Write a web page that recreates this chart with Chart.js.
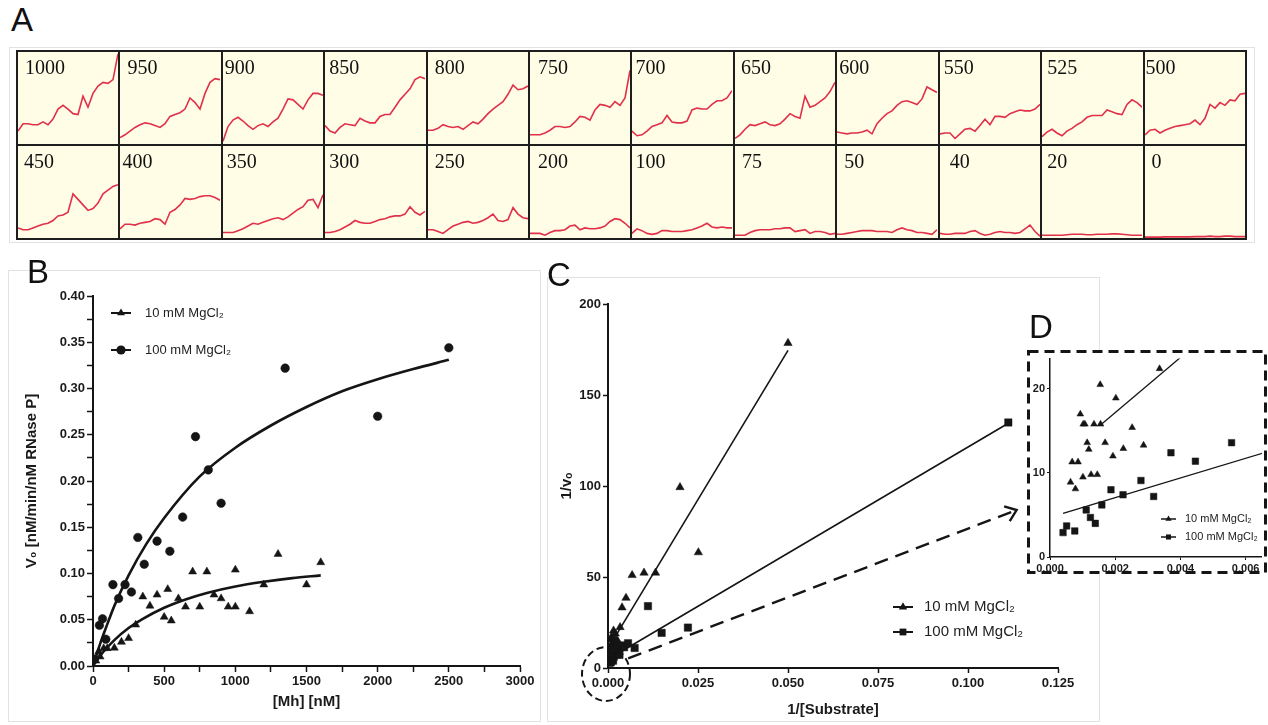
<!DOCTYPE html>
<html>
<head>
<meta charset="utf-8">
<title>RNase P cleavage kinetics</title>
<script src="https://cdn.jsdelivr.net/npm/chart.js@4.4.1/dist/chart.umd.min.js"></script>
<style>
  body { margin: 0; width: 1268px; height: 725px; position: relative; overflow: hidden; background: #fff;
         font-family: "Liberation Sans", Arial, sans-serif; }
  .letter { position: absolute; font-size: 33px; line-height: 33px; color: #111; z-index: 5; }
  .frame { position: absolute; box-sizing: border-box; border: 1px solid #e2e2e2; }
  .plot { position: absolute; display: block; }
  #traceGrid { position: absolute; left: 16px; top: 50px; width: 1231px; height: 190px; box-sizing: border-box;
               padding: 2px; background: #1e1e1e; display: grid; gap: 2px;
               grid-template-columns: repeat(12, 1fr); grid-template-rows: repeat(2, 1fr); }
  .cell { position: relative; background: #fffde6; overflow: hidden; }
  .cell canvas { position: absolute; left: 0; top: 0; }
  .cell span { position: absolute; top: 5px; font-family: "Liberation Serif", "Times New Roman", serif;
               font-size: 20px; line-height: 20px; color: #111; }
  #insetBox { position: absolute; left: 1027px; top: 350px; width: 240px; height: 224px; background: #fff; }
</style>
</head>
<body>

<div class="letter" style="left:11px;top:3px">A</div>
<div class="frame" style="left:9px;top:47px;width:1246px;height:196px"></div>
<div id="traceGrid"></div>

<div class="frame" style="left:8px;top:270px;width:533px;height:452px"></div>
<canvas id="chartB" class="plot" width="533" height="452" style="left:8px;top:270px"></canvas>
<div class="letter" style="left:27px;top:255px">B</div>

<div class="frame" style="left:547px;top:277px;width:553px;height:445px"></div>
<canvas id="chartC" class="plot" width="553" height="445" style="left:547px;top:277px"></canvas>
<div class="letter" style="left:547px;top:258px">C</div>

<div id="insetBox"></div>
<canvas id="chartD" class="plot" width="240" height="224" style="left:1027px;top:350px"></canvas>
<div class="letter" style="left:1029px;top:310px">D</div>

<script>
// ---- A: time courses, one panel per Mh concentration (nM) ----
const traceConc = [1000, 950, 900, 850, 800, 750, 700, 650, 600, 550, 525, 500,
                   450, 400, 350, 300, 250, 200, 100, 75, 50, 40, 20, 0];

// signal as a fraction of panel height, sampled evenly over the run
const t1000 = [0.14, 0.22, 0.22, 0.21, 0.21, 0.24, 0.21, 0.27, 0.38, 0.42, 0.38, 0.33, 0.32, 0.52, 0.40, 0.55, 0.63, 0.67, 0.66, 0.70, 0.98];
const t950  = [0.07, 0.10, 0.14, 0.18, 0.21, 0.23, 0.22, 0.20, 0.18, 0.22, 0.30, 0.32, 0.34, 0.38, 0.50, 0.45, 0.38, 0.55, 0.67, 0.71, 0.70];
const t900  = [0.03, 0.19, 0.26, 0.29, 0.25, 0.20, 0.16, 0.20, 0.22, 0.19, 0.24, 0.28, 0.38, 0.49, 0.48, 0.43, 0.38, 0.48, 0.55, 0.55, 0.53];
const t850  = [0.20, 0.14, 0.12, 0.18, 0.22, 0.21, 0.20, 0.28, 0.25, 0.23, 0.23, 0.30, 0.32, 0.32, 0.40, 0.48, 0.54, 0.60, 0.70, 0.73, 0.71];
const t800  = [0.15, 0.15, 0.17, 0.21, 0.19, 0.18, 0.19, 0.16, 0.20, 0.24, 0.22, 0.27, 0.33, 0.38, 0.42, 0.46, 0.54, 0.64, 0.59, 0.60, 0.63];
const t750  = [0.10, 0.10, 0.10, 0.12, 0.15, 0.19, 0.19, 0.18, 0.19, 0.24, 0.30, 0.29, 0.26, 0.37, 0.43, 0.42, 0.40, 0.46, 0.42, 0.50, 0.80];
const t700  = [0.14, 0.09, 0.10, 0.14, 0.19, 0.21, 0.23, 0.31, 0.24, 0.23, 0.23, 0.25, 0.37, 0.39, 0.38, 0.38, 0.43, 0.47, 0.47, 0.50, 0.58];
const t650  = [0.06, 0.10, 0.16, 0.21, 0.20, 0.22, 0.24, 0.21, 0.20, 0.22, 0.27, 0.33, 0.30, 0.28, 0.52, 0.40, 0.42, 0.46, 0.50, 0.57, 0.67];
const t600  = [0.13, 0.12, 0.11, 0.12, 0.12, 0.13, 0.15, 0.11, 0.22, 0.28, 0.33, 0.36, 0.42, 0.46, 0.47, 0.45, 0.43, 0.49, 0.62, 0.59, 0.56];
const t550  = [0.11, 0.12, 0.12, 0.06, 0.11, 0.16, 0.17, 0.14, 0.20, 0.27, 0.21, 0.30, 0.30, 0.29, 0.33, 0.35, 0.37, 0.36, 0.36, 0.38, 0.43];
const t525  = [0.08, 0.13, 0.16, 0.12, 0.09, 0.14, 0.17, 0.21, 0.24, 0.29, 0.31, 0.31, 0.31, 0.37, 0.35, 0.33, 0.32, 0.43, 0.48, 0.45, 0.40];
const t500  = [0.10, 0.15, 0.16, 0.12, 0.15, 0.17, 0.19, 0.20, 0.21, 0.22, 0.26, 0.21, 0.28, 0.43, 0.39, 0.45, 0.42, 0.48, 0.47, 0.54, 0.55];
const t450  = [0.11, 0.09, 0.09, 0.11, 0.13, 0.15, 0.16, 0.19, 0.24, 0.25, 0.28, 0.48, 0.42, 0.36, 0.30, 0.32, 0.38, 0.48, 0.52, 0.56, 0.58];
const t400  = [0.10, 0.15, 0.15, 0.14, 0.16, 0.17, 0.18, 0.21, 0.20, 0.15, 0.28, 0.31, 0.36, 0.43, 0.42, 0.43, 0.45, 0.46, 0.46, 0.44, 0.41];
const t350  = [0.06, 0.06, 0.06, 0.08, 0.10, 0.13, 0.16, 0.15, 0.17, 0.19, 0.21, 0.22, 0.20, 0.23, 0.27, 0.31, 0.34, 0.41, 0.42, 0.33, 0.47];
const t300  = [0.06, 0.06, 0.07, 0.09, 0.12, 0.15, 0.19, 0.17, 0.16, 0.16, 0.18, 0.20, 0.21, 0.23, 0.24, 0.24, 0.26, 0.34, 0.28, 0.25, 0.29];
const t250  = [0.09, 0.09, 0.07, 0.05, 0.09, 0.13, 0.15, 0.17, 0.18, 0.16, 0.17, 0.19, 0.22, 0.26, 0.19, 0.18, 0.20, 0.33, 0.26, 0.22, 0.21];
const t200  = [0.05, 0.05, 0.05, 0.03, 0.06, 0.08, 0.08, 0.09, 0.13, 0.14, 0.09, 0.11, 0.10, 0.10, 0.11, 0.13, 0.18, 0.21, 0.20, 0.16, 0.11];
const t100  = [0.05, 0.10, 0.08, 0.05, 0.04, 0.05, 0.08, 0.08, 0.07, 0.07, 0.07, 0.08, 0.09, 0.11, 0.13, 0.16, 0.12, 0.11, 0.12, 0.11, 0.11];
const t75   = [0.03, 0.03, 0.03, 0.06, 0.08, 0.09, 0.09, 0.09, 0.10, 0.10, 0.11, 0.11, 0.07, 0.08, 0.09, 0.05, 0.07, 0.07, 0.06, 0.04, 0.05];
const t50   = [0.04, 0.04, 0.05, 0.06, 0.07, 0.08, 0.08, 0.08, 0.07, 0.07, 0.07, 0.06, 0.09, 0.11, 0.09, 0.08, 0.06, 0.06, 0.05, 0.04, 0.09];
const t40   = [0.05, 0.04, 0.04, 0.05, 0.05, 0.05, 0.07, 0.08, 0.05, 0.03, 0.04, 0.06, 0.07, 0.06, 0.06, 0.05, 0.06, 0.10, 0.14, 0.07, 0.02];
const t20   = [0.03, 0.03, 0.03, 0.03, 0.03, 0.035, 0.04, 0.04, 0.04, 0.035, 0.035, 0.04, 0.04, 0.04, 0.045, 0.045, 0.04, 0.035, 0.03, 0.03, 0.03];
const t0    = [0.01, 0.01, 0.01, 0.01, 0.012, 0.012, 0.012, 0.012, 0.012, 0.012, 0.015, 0.015, 0.015, 0.02, 0.015, 0.015, 0.02, 0.02, 0.015, 0.015, 0.015];
const traceSet = [t1000, t950, t900, t850, t800, t750, t700, t650, t600, t550, t525, t500,
                  t450, t400, t350, t300, t250, t200, t100, t75, t50, t40, t20, t0];

// ---- B: initial rate vs [Mh] ----
const mh10 = [20, 40, 50, 75, 100, 150, 200, 250, 300, 350, 400, 450, 500, 525, 550, 600, 650, 700, 750, 800,
              850, 900, 950, 1000, 1000, 1100, 1200, 1300, 1500, 1600];
const rate10 = [0.0056, 0.0157, 0.0101, 0.0191, 0.0191, 0.0196, 0.026, 0.030, 0.0446, 0.075, 0.065, 0.077, 0.053,
                0.083, 0.049, 0.073, 0.064, 0.102, 0.064, 0.102, 0.077, 0.073, 0.064, 0.064, 0.104, 0.059, 0.088,
                0.121, 0.088, 0.112];
const mh100 = [9, 45, 67, 90, 140, 180, 225, 270, 315, 360, 450, 540, 630, 720, 810, 900, 1350, 2000, 2500];
const rate100 = [0.0074, 0.044, 0.051, 0.029, 0.088, 0.073, 0.088, 0.080, 0.139, 0.110, 0.135, 0.124, 0.161,
                 0.248, 0.212, 0.176, 0.322, 0.270, 0.344];
// fitted hyperbolas
const fitMh10 = [0, 50, 100, 150, 250, 350, 500, 650, 800, 1000, 1200, 1400, 1600];
const fitRate10 = [0, 0.011, 0.020, 0.028, 0.041, 0.051, 0.063, 0.072, 0.079, 0.086, 0.091, 0.095, 0.098];
const fitMh100 = [0, 50, 100, 150, 250, 375, 500, 750, 1000, 1250, 1500, 1750, 2000, 2250, 2500];
const fitRate100 = [0, 0.024, 0.045, 0.065, 0.098, 0.132, 0.160, 0.205, 0.236, 0.260, 0.280, 0.297, 0.310, 0.321, 0.331];

// ---- C / D: double reciprocal ----
const invS10 = [0.00336, 0.00154, 0.00202, 0.00093, 0.00102, 0.00107, 0.00135, 0.00155, 0.00252, 0.00114, 0.00169,
                0.00119, 0.00225, 0.00287, 0.00193, 0.00068, 0.00086, 0.00063, 0.00078, 0.00101, 0.00126, 0.00145,
                0.0039, 0.0050, 0.0067, 0.0100, 0.0132, 0.0200, 0.0251, 0.0500];
const invV10 = [22.4, 20.5, 18.9, 17.0, 15.8, 15.8, 15.8, 15.8, 15.4, 13.6, 13.6, 12.8, 12.9, 13.3, 12.0, 11.3,
                11.3, 8.9, 8.1, 9.5, 9.8, 9.8, 33.2, 38.5, 51.0, 52.3, 52.3, 99.3, 63.5, 178.5];
const invS100 = [0.0004, 0.00051, 0.00076, 0.00111, 0.00124, 0.00139, 0.00159, 0.00187, 0.00224, 0.00279, 0.00318,
                 0.00371, 0.00446, 0.00557, 0.0074, 0.0111, 0.0149, 0.0222, 0.1112];
const invV100 = [2.9, 3.7, 3.1, 5.6, 4.7, 4.0, 6.2, 8.0, 7.4, 9.1, 7.2, 12.4, 11.4, 13.6, 11.0, 34.0, 19.3, 22.2, 134.9];
// regression lines (end points)
const lineS10 = [0.00155, 0.0500];
const lineV10 = [15.7, 174.5];
const lineS100 = [0.0004, 0.1112];
const lineV100 = [5.2, 134.5];

const seriesNames = ['10 mM MgCl\u2082', '100 mM MgCl\u2082'];

// ---------------------------------------------------------------
const ink = '#151515';
const traceRed = '#e0304a';
const sans = "'Liberation Sans', Arial, sans-serif";
// where each panel number sits from the left edge of its cell (px)
const traceLabelInset = [7, 7, 2, 4, 7, 8, 3, 6, 2, 4, 5, 1, 6, 2, 4, 4, 7, 8, 3, 7, 7, 10, 5, 7];

Chart.defaults.animation = false;
Chart.defaults.events = [];
Chart.defaults.font.family = sans;
Chart.defaults.plugins.legend.display = false;
Chart.defaults.plugins.tooltip.enabled = false;

function pairs(xs, ys) {
    return xs.map((x, i) => ({ x: x, y: ys[i] }));
}

// A: small strip charts
const grid = document.getElementById('traceGrid');
traceSet.forEach((vals, i) => {
    const cell = document.createElement('div');
    cell.className = 'cell';
    const cv = document.createElement('canvas');
    cv.width = 100;
    cv.height = 92;
    const lab = document.createElement('span');
    lab.textContent = traceConc[i];
    lab.style.left = traceLabelInset[i] + 'px';
    cell.append(cv, lab);
    grid.append(cell);
    new Chart(cv, {
        type: 'line',
        data: {
            labels: vals.map((_, k) => k),
            datasets: [{ data: vals, borderColor: traceRed, borderWidth: 1.6, pointRadius: 0, tension: 0 }]
        },
        options: {
            responsive: false,
            layout: { padding: 0 },
            scales: { x: { display: false }, y: { display: false, min: 0, max: 1 } }
        }
    });
});

function drawMarker(ctx, style, x, y, r) {
    ctx.beginPath();
    if (style === 'triangle') {
        ctx.moveTo(x, y - r);
        ctx.lineTo(x + r * 0.866, y + r * 0.5);
        ctx.lineTo(x - r * 0.866, y + r * 0.5);
        ctx.closePath();
    } else if (style === 'rect') {
        const s = r * Math.SQRT1_2;
        ctx.rect(x - s, y - s, 2 * s, 2 * s);
    } else {
        ctx.arc(x, y, r, 0, Math.PI * 2);
    }
    ctx.fill();
}

// legend drawn inside the plot: short line with the marker on it, then the label
const insetLegend = {
    id: 'insetLegend',
    afterDraw(chart, args, opts) {
        if (!opts.rows) return;
        const ctx = chart.ctx;
        ctx.save();
        ctx.font = opts.font;
        ctx.textBaseline = 'middle';
        opts.rows.forEach((dsIndex, row) => {
            const ds = chart.data.datasets[dsIndex];
            const y = opts.top + row * opts.rowGap;
            ctx.strokeStyle = ink;
            ctx.fillStyle = ink;
            ctx.lineWidth = opts.lineWidth;
            ctx.beginPath();
            ctx.moveTo(opts.left, y);
            ctx.lineTo(opts.left + opts.lineLength, y);
            ctx.stroke();
            drawMarker(ctx, ds.pointStyle, opts.left + opts.lineLength / 2, y, opts.markerRadius);
            ctx.fillStyle = '#222';
            ctx.fillText(ds.label, opts.left + opts.lineLength + opts.gap, y);
        });
        ctx.restore();
    }
};

// dashed ring round the origin cluster and the arrow pointing to the inset
const zoomCue = {
    id: 'zoomCue',
    afterDraw(chart, args, opts) {
        if (!opts.from) return;
        const sx = chart.scales.x, sy = chart.scales.y, ctx = chart.ctx;
        const ox = sx.getPixelForValue(0), oy = sy.getPixelForValue(0);
        ctx.save();
        ctx.strokeStyle = ink;
        ctx.lineWidth = 2;
        ctx.setLineDash([7, 4]);
        ctx.beginPath();
        ctx.ellipse(ox - 2, oy + 6, 24, 27, 0, 0, Math.PI * 2);
        ctx.stroke();

        const x0 = sx.getPixelForValue(opts.from[0]), y0 = sy.getPixelForValue(opts.from[1]);
        const x1 = sx.getPixelForValue(opts.to[0]), y1 = sy.getPixelForValue(opts.to[1]);
        ctx.lineWidth = 2.4;
        ctx.setLineDash([14, 8]);
        ctx.beginPath();
        ctx.moveTo(x0, y0);
        ctx.lineTo(x1 - 4, y1 + 1.5);
        ctx.stroke();
        const ang = Math.atan2(y1 - y0, x1 - x0);
        ctx.setLineDash([]);
        ctx.beginPath();
        ctx.moveTo(x1 + 13 * Math.cos(ang + Math.PI - 0.65), y1 + 13 * Math.sin(ang + Math.PI - 0.65));
        ctx.lineTo(x1, y1);
        ctx.lineTo(x1 + 13 * Math.cos(ang + Math.PI + 0.65), y1 + 13 * Math.sin(ang + Math.PI + 0.65));
        ctx.stroke();
        ctx.restore();
    }
};

// dashed frame of the inset
const dashedFrame = {
    id: 'dashedFrame',
    afterDraw(chart, args, opts) {
        if (!opts.width) return;
        const ctx = chart.ctx;
        ctx.save();
        ctx.strokeStyle = ink;
        ctx.lineWidth = opts.width;
        ctx.setLineDash(opts.dash);
        const h = opts.width / 2;
        ctx.strokeRect(h, h, chart.width - opts.width, chart.height - opts.width);
        ctx.restore();
    }
};

Chart.register(insetLegend, zoomCue, dashedFrame);

function axis(o) {
    return {
        type: 'linear',
        min: o.min,
        max: o.max,
        border: { display: true, color: ink, width: o.border },
        grid: { display: true, drawOnChartArea: false, drawTicks: true, tickLength: o.tick, tickWidth: o.tickWidth, tickColor: ink },
        ticks: {
            stepSize: o.step, autoSkip: false, maxRotation: 0, includeBounds: false,
            color: '#1a1a1a', padding: o.pad, font: { size: o.font, weight: 'bold' }, callback: o.label
        },
        title: o.title ? { display: true, text: o.title, color: '#1a1a1a', font: { size: 15, weight: 'bold' }, padding: o.titlePad } : { display: false },
        afterFit: o.fit
    };
}

function pointSet(label, xs, ys, style, r) {
    return {
        label: label, data: pairs(xs, ys), pointStyle: style, pointRadius: r, pointHoverRadius: r,
        pointBackgroundColor: ink, pointBorderColor: ink, pointBorderWidth: 0.5, showLine: false, order: 1
    };
}

function lineSet(label, xs, ys, width, smooth) {
    return {
        label: label, data: pairs(xs, ys), showLine: true, pointRadius: 0, pointHoverRadius: 0,
        borderColor: ink, borderWidth: width, fill: false,
        cubicInterpolationMode: smooth ? 'monotone' : 'default', order: 2
    };
}

// B
new Chart(document.getElementById('chartB'), {
    type: 'scatter',
    data: {
        datasets: [
            pointSet(seriesNames[0], mh10, rate10, 'triangle', 4.6),
            pointSet(seriesNames[1], mh100, rate100, 'circle', 4.3),
            lineSet('fit 10', fitMh10, fitRate10, 2.6, true),
            lineSet('fit 100', fitMh100, fitRate100, 2.6, true)
        ]
    },
    options: {
        responsive: false,
        layout: { padding: { top: 26, right: 21, bottom: 0, left: 0 } },
        scales: {
            x: axis({ min: 0, max: 3000, step: 250, border: 2, tick: 6, tickWidth: 1.5, pad: 2, font: 13,
                      label: v => (v % 500 === 0 ? String(v) : ''), title: '[Mh] [nM]',
                      titlePad: { top: 0, bottom: 11 }, fit: s => { s.height = 56; } }),
            y: axis({ min: 0, max: 0.4, step: 0.025, border: 2, tick: 6, tickWidth: 1.5, pad: 2, font: 13,
                      label: v => (Math.round(v * 1000) % 50 === 0 ? v.toFixed(2) : ''),
                      title: 'V\u2080 [nM/min/nM RNase P]', titlePad: { top: 15, bottom: 0 },
                      fit: s => { s.width = 85; } })
        },
        plugins: {
            insetLegend: { rows: [0, 1], left: 103, top: 43, rowGap: 37, lineLength: 20, gap: 14,
                           lineWidth: 2, markerRadius: 4.6, font: '13px ' + sans }
        }
    }
});

// C
new Chart(document.getElementById('chartC'), {
    type: 'scatter',
    data: {
        datasets: [
            pointSet(seriesNames[0], invS10, invV10, 'triangle', 4.8),
            pointSet(seriesNames[1], invS100, invV100, 'rect', 5.2),
            lineSet('line 10', lineS10, lineV10, 1.6, false),
            lineSet('line 100', lineS100, lineV100, 1.6, false)
        ]
    },
    options: {
        responsive: false,
        layout: { padding: { top: 27, right: 42, bottom: 0, left: 0 } },
        scales: {
            x: axis({ min: 0, max: 0.125, step: 0.025, border: 2, tick: 5, tickWidth: 1.5, pad: 3, font: 13,
                      label: v => v.toFixed(3), title: '1/[Substrate]',
                      titlePad: { top: 0, bottom: 3 }, fit: s => { s.height = 54; } }),
            y: axis({ min: 0, max: 200, step: 50, border: 2, tick: 5, tickWidth: 1.5, pad: 2, font: 13,
                      label: v => String(v), title: '1/v\u2092', titlePad: { top: 11, bottom: 0 },
                      fit: s => { s.width = 61; } })
        },
        plugins: {
            insetLegend: { rows: [0, 1], left: 346, top: 330, rowGap: 25, lineLength: 20, gap: 11,
                           lineWidth: 2, markerRadius: 4.8, font: '15px ' + sans },
            zoomCue: { from: [0.0056, 5.3], to: [0.1135, 86.8] }
        }
    }
});

// D: low-concentration end of C
new Chart(document.getElementById('chartD'), {
    type: 'scatter',
    data: {
        datasets: [
            pointSet(seriesNames[0], invS10, invV10, 'triangle', 3.9),
            pointSet(seriesNames[1], invS100, invV100, 'rect', 4.6),
            lineSet('line 10', lineS10, lineV10, 1.3, false),
            lineSet('line 100', lineS100, lineV100, 1.3, false)
        ]
    },
    options: {
        responsive: false,
        layout: { padding: { top: 2, right: 1, bottom: 0, left: 0 } },
        scales: {
            x: axis({ min: 0, max: 0.0065, step: 0.002, border: 1.5, tick: 3, tickWidth: 1, pad: 2, font: 11,
                      label: v => v.toFixed(3), fit: s => { s.height = 17; } }),
            y: axis({ min: 0, max: 23.6, step: 10, border: 1.5, tick: 3, tickWidth: 1, pad: 2, font: 11,
                      label: v => String(v), fit: s => { s.width = 23; } })
        },
        plugins: {
            insetLegend: { rows: [0, 1], left: 134, top: 169, rowGap: 18, lineLength: 15, gap: 9,
                           lineWidth: 1.5, markerRadius: 3.6, font: '11px ' + sans },
            dashedFrame: { width: 3, dash: [10, 6] }
        }
    }
});
</script>
</body>
</html>
